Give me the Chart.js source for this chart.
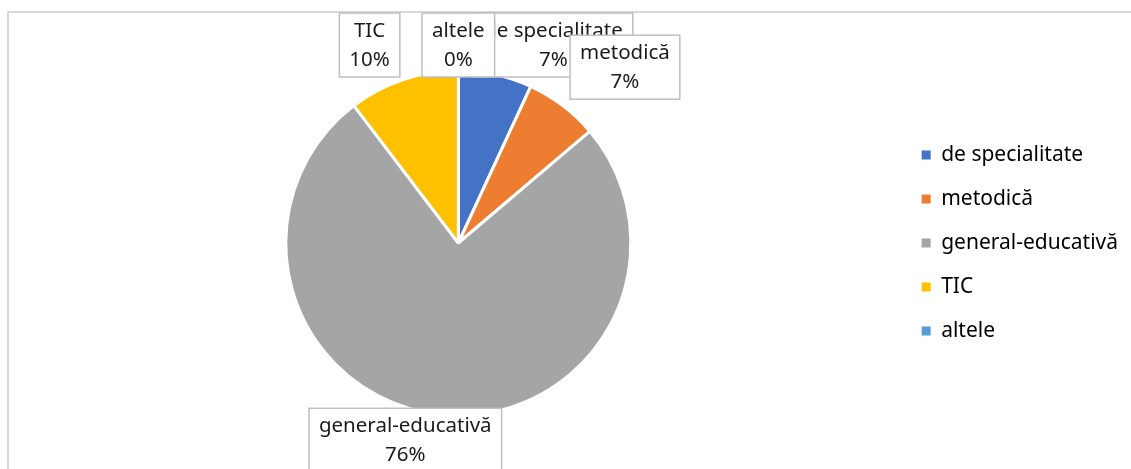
<!DOCTYPE html>
<html>
<head>
<meta charset="utf-8">
<script src="https://cdn.jsdelivr.net/npm/chart.js@4.4.1/dist/chart.umd.min.js"></script>
<style>
  html, body { margin: 0; padding: 0; background: #fff; }
  #wrap { width: 1131px; height: 469px; }
</style>
</head>
<body>
<div id="wrap"><canvas id="myChart" width="1131" height="469"></canvas></div>
<script>
// Data
const categories = ['de specialitate', 'metodică', 'general-educativă', 'TIC', 'altele'];
const counts = [2, 2, 22, 3, 0];
const sliceColors = ['#4472C4', '#ED7D31', '#A5A5A5', '#FFC000', '#5B9BD5'];

const total = counts.reduce((a, b) => a + b, 0);
const FONT = '"Noto Sans", "Open Sans", sans-serif';

// Label boxes: nudges from the natural "outside end" spot (style only)
const labelNudge = [[41, 0], [29, -13], [-24, -6], [-24, -5], [0, 0]];

const frame = {
  id: 'frame',
  beforeDraw(chart) {
    const ctx = chart.ctx;
    ctx.save();
    ctx.strokeStyle = '#d9d9d9';
    ctx.lineWidth = 2;
    ctx.strokeRect(8, 12, chart.width + 20, chart.height + 20);
    ctx.restore();
  }
};

const labelBoxes = {
  id: 'labelBoxes',
  afterDatasetsDraw(chart) {
    const ctx = chart.ctx;
    const meta = chart.getDatasetMeta(0);
    ctx.save();
    ctx.font = '20.5px ' + FONT;
    meta.data.forEach((arc, i) => {
      const p = arc.getProps(['x', 'y', 'startAngle', 'endAngle', 'outerRadius'], true);
      const mid = (p.startAngle + p.endAngle) / 2;
      const dx = Math.cos(mid), dy = Math.sin(mid);
      const ax = p.x + dx * p.outerRadius;
      const ay = p.y + dy * p.outerRadius;
      const line1 = categories[i];
      const line2 = Math.round(counts[i] / total * 100) + '%';
      const w = Math.max(ctx.measureText(line1).width, ctx.measureText(line2).width) + 20;
      const h = 64;
      let cx = ax + dx * w / 2 + labelNudge[i][0];
      let cy = ay + dy * h / 2 + labelNudge[i][1];
      let top = Math.max(13, cy - h / 2);
      const left = cx - w / 2;
      ctx.fillStyle = '#ffffff';
      ctx.fillRect(left, top, w, h);
      ctx.strokeStyle = '#bfbfbf';
      ctx.lineWidth = 1.5;
      ctx.strokeRect(left, top, w, h);
      ctx.fillStyle = '#1a1a1a';
      ctx.textAlign = 'center';
      ctx.textBaseline = 'middle';
      ctx.fillText(line1, cx, top + 18);
      ctx.fillText(line2, cx, top + 47);
    });
    ctx.restore();
  }
};

const data = {
  labels: categories,
  datasets: [{
    data: counts,
    backgroundColor: sliceColors,
    borderColor: '#ffffff',
    borderWidth: 3
  }]
};

const config = {
  type: 'pie',
  data: data,
  options: {
    responsive: false,
    animation: false,
    layout: { padding: { top: 69, bottom: 52, left: 18, right: 3 } },
    plugins: {
      legend: {
        position: 'right',
        labels: {
          boxWidth: 9,
          boxHeight: 9,
          padding: 23,
          color: '#1a1a1a',
          font: { family: FONT, size: 21 },
          generateLabels(chart) {
            return chart.data.labels.map((l, i) => ({
              text: l,
              fillStyle: sliceColors[i],
              strokeStyle: sliceColors[i],
              lineWidth: 0,
              hidden: false,
              index: i
            }));
          }
        }
      },
      tooltip: { enabled: false }
    }
  },
  plugins: [frame, labelBoxes]
};

const myChart = new Chart(document.getElementById('myChart'), config);
</script>
</body>
</html>
